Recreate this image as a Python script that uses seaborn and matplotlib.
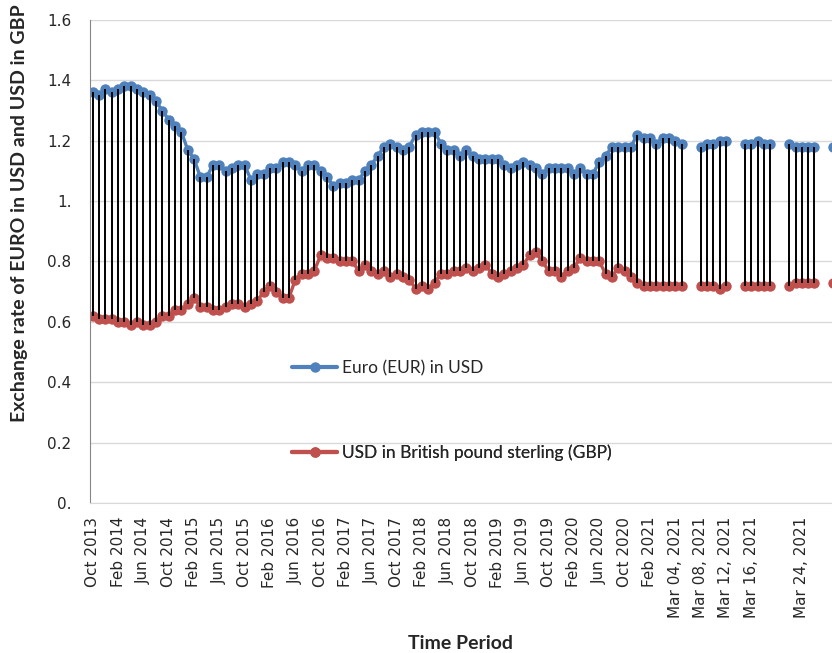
import numpy as np
import pandas as pd
import matplotlib
matplotlib.use('Agg')
import matplotlib.pyplot as plt
import seaborn as sns
from matplotlib.lines import Line2D

# categories: monthly averages, then daily March 2021 quotes (weekends empty)
months = pd.date_range('2013-10-01', '2021-02-01', freq='MS').strftime('%b %Y').tolist()
days = pd.date_range('2021-03-01', '2021-03-29', freq='D').strftime('%b %d, %Y').tolist()
categories = months + days

eur_usd_monthly = [1.36, 1.35, 1.37, 1.36, 1.37, 1.38, 1.38, 1.37, 1.36, 1.35,
                   1.33, 1.30, 1.27, 1.25, 1.23, 1.17, 1.14, 1.08, 1.08, 1.12,
                   1.12, 1.10, 1.11, 1.12, 1.12, 1.07, 1.09, 1.09, 1.11, 1.11,
                   1.13, 1.13, 1.12, 1.10, 1.12, 1.12, 1.10, 1.08, 1.05, 1.06,
                   1.06, 1.07, 1.07, 1.10, 1.12, 1.15, 1.18, 1.19, 1.18, 1.17,
                   1.18, 1.22, 1.23, 1.23, 1.23, 1.19, 1.17, 1.17, 1.15, 1.17,
                   1.15, 1.14, 1.14, 1.14, 1.14, 1.12, 1.11, 1.12, 1.13, 1.12,
                   1.11, 1.09, 1.11, 1.11, 1.11, 1.11, 1.09, 1.11, 1.09, 1.09,
                   1.13, 1.15, 1.18, 1.18, 1.18, 1.18, 1.22, 1.21, 1.21]
usd_gbp_monthly = [0.62, 0.61, 0.61, 0.61, 0.60, 0.60, 0.59, 0.60, 0.59, 0.59,
                   0.60, 0.62, 0.62, 0.64, 0.64, 0.66, 0.68, 0.65, 0.65, 0.64,
                   0.64, 0.65, 0.66, 0.66, 0.65, 0.66, 0.67, 0.70, 0.72, 0.70,
                   0.68, 0.68, 0.74, 0.76, 0.76, 0.77, 0.82, 0.81, 0.81, 0.80,
                   0.80, 0.80, 0.77, 0.79, 0.77, 0.76, 0.77, 0.75, 0.76, 0.75,
                   0.74, 0.71, 0.72, 0.71, 0.73, 0.76, 0.76, 0.77, 0.77, 0.78,
                   0.77, 0.78, 0.79, 0.76, 0.75, 0.76, 0.77, 0.78, 0.79, 0.82,
                   0.83, 0.80, 0.77, 0.77, 0.75, 0.77, 0.78, 0.81, 0.80, 0.80,
                   0.80, 0.76, 0.75, 0.78, 0.77, 0.75, 0.73, 0.72, 0.72]
nan = np.nan
eur_usd_daily = [1.19, 1.21, 1.21, 1.20, 1.19, nan, nan,
                 1.18, 1.19, 1.19, 1.20, 1.20, nan, nan,
                 1.19, 1.19, 1.20, 1.19, 1.19, nan, nan,
                 1.19, 1.18, 1.18, 1.18, 1.18, nan, nan,
                 1.18]
usd_gbp_daily = [0.72, 0.72, 0.72, 0.72, 0.72, nan, nan,
                 0.72, 0.72, 0.72, 0.71, 0.72, nan, nan,
                 0.72, 0.72, 0.72, 0.72, 0.72, nan, nan,
                 0.72, 0.73, 0.73, 0.73, 0.73, nan, nan,
                 0.73]

tick_labels = ['Oct 2013', 'Feb 2014', 'Jun 2014', 'Oct 2014', 'Feb 2015', 'Jun 2015',
               'Oct 2015', 'Feb 2016', 'Jun 2016', 'Oct 2016', 'Feb 2017', 'Jun 2017',
               'Oct 2017', 'Feb 2018', 'Jun 2018', 'Oct 2018', 'Feb 2019', 'Jun 2019',
               'Oct 2019', 'Feb 2020', 'Jun 2020', 'Oct 2020', 'Feb 2021',
               'Mar 04, 2021', 'Mar 08, 2021', 'Mar 12, 2021', 'Mar 16, 2021', 'Mar 24, 2021']
y_ticks = [0, 0.2, 0.4, 0.6, 0.8, 1.0, 1.2, 1.4, 1.6]
y_tick_labels = ['0.', '0.2', '0.4', '0.6', '0.8', '1.', '1.2', '1.4', '1.6']

df = pd.DataFrame({'period': categories,
                   'eur': eur_usd_monthly + eur_usd_daily,
                   'gbp': usd_gbp_monthly + usd_gbp_daily})
df['pos'] = np.arange(len(df))
df['seg'] = df['eur'].isna().cumsum()  # break the line at empty days

blue = '#4F81BD'
red = '#C0504D'

sns.set_style('white')
plt.rcParams['font.family'] = ['DejaVu Sans']

fig = plt.figure(figsize=(8.32, 6.53), dpi=100)
ax = fig.add_axes([0.1076, 0.2297, 0.898, 0.7397])

sns.lineplot(data=df, x='pos', y='eur', units='seg', estimator=None, color=blue,
             lw=2.4, marker='o', markersize=7.5, markeredgewidth=0, ax=ax, legend=False)
sns.lineplot(data=df, x='pos', y='gbp', units='seg', estimator=None, color=red,
             lw=2.4, marker='o', markersize=7.5, markeredgewidth=0, ax=ax, legend=False)

valid = df.dropna()
ax.vlines(valid['pos'], valid['gbp'], valid['eur'], color='black', lw=1.4, zorder=3)

ax.set_xlim(-0.5, len(df) - 0.5)
ax.set_ylim(0, 1.6)
ax.set_yticks(y_ticks)
ax.set_yticklabels(y_tick_labels, fontsize=11)
tick_pos = [categories.index(t) for t in tick_labels]
ax.set_xticks(tick_pos)
ax.set_xticklabels(tick_labels, rotation=90, fontsize=11)
ax.tick_params(axis='x', length=0, pad=10)
ax.tick_params(axis='y', length=4, color='#868686', direction='out', pad=9)

ax.yaxis.grid(True, color='#D9D9D9', lw=1)
ax.set_axisbelow(True)
for s in ['top', 'right']:
    ax.spines[s].set_visible(False)
ax.spines['left'].set_color('#868686')
ax.spines['bottom'].set_color('#D9D9D9')

ax.set_ylabel('Exchange rate of EURO in USD and USD in GBP', family='Lato',
              fontweight='bold', fontsize=14)
ax.yaxis.set_label_coords(-0.083, 0.60)
ax.set_xlabel('Time Period', family='Lato', fontweight='bold', fontsize=14)
ax.xaxis.set_label_coords(0.497, -0.273)

# two legend entries placed apart, like the original
entries = [('Euro (EUR) in USD', blue, 0.4364), ('USD in British pound sterling (GBP)', red, 0.3063)]
for label, c, yy in entries:
    h = Line2D([], [], color=c, lw=3, marker='o', markersize=7.5, markeredgewidth=0)
    leg = ax.legend(handles=[h], labels=[label], loc='center left',
                    bbox_to_anchor=(0.351, yy), bbox_transform=fig.transFigure,
                    frameon=False, borderpad=0, borderaxespad=0, handlelength=2.6,
                    handletextpad=0.3, prop={'family': 'Lato', 'size': 12.5})
    ax.add_artist(leg)

fig.savefig('out.png', dpi=100)
